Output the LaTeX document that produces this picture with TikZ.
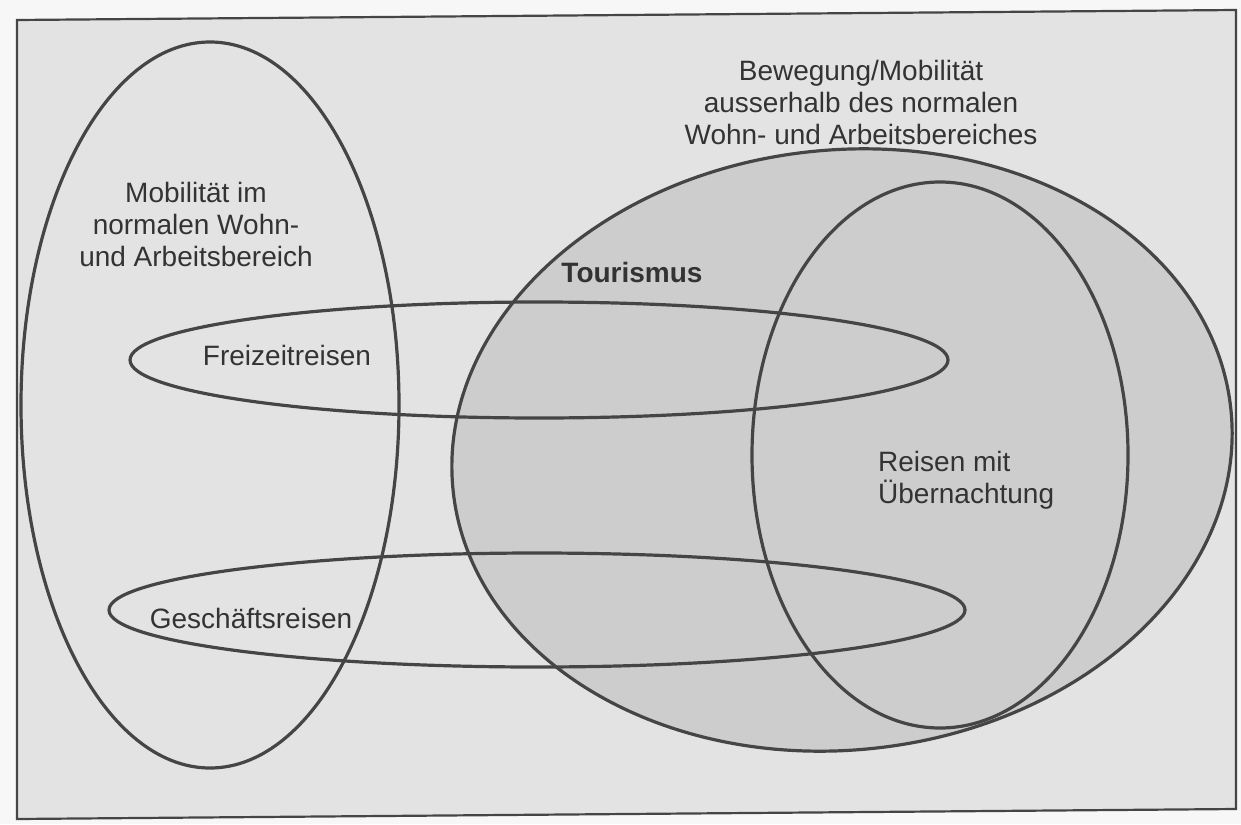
\documentclass[tikz,border=0pt]{standalone}
\usepackage{fontspec}
\setmainfont{Liberation Sans}
\definecolor{paper}{HTML}{F7F7F7}
\definecolor{sheet}{HTML}{E3E3E3}
\definecolor{setgray}{HTML}{CDCDCD}
\definecolor{linegray}{HTML}{454545}
\definecolor{textgray}{HTML}{333333}
\begin{document}
\begin{tikzpicture}[x=1pt,y=-1pt,
  outline/.style={draw=linegray, line width=3.2pt},
  frameline/.style={draw=linegray, line width=2.2pt},
  txt/.style={font=\fontsize{28}{32}\selectfont, text=textgray, inner sep=0pt, align=center},
  boldtxt/.style={txt, font=\fontsize{28}{32}\selectfont\bfseries},
]
% page and bounding box
\fill[paper] (0,0) rectangle (1241,824);
\useasboundingbox (0,0) rectangle (1241,824);

% framed panel
\coordinate (f1) at (17,20);
\coordinate (f2) at (1236,10);
\coordinate (f3) at (1236,809);
\coordinate (f4) at (17,819);
\fill[sheet] (f1) -- (f2) -- (f3) -- (f4) -- cycle;

% shaded tourism set and overnight-travel set
\coordinate (tour) at (842,450);
\coordinate (night) at (940,455);
\fill[setgray, rotate around={6:(tour)}] (tour) ellipse [x radius=391, y radius=300];
\fill[setgray] (night) ellipse [x radius=188, y radius=273];

% set outlines
\coordinate (home) at (210,405);
\coordinate (leisure) at (539,360);
\coordinate (business) at (537,610);
\draw[outline] (home) ellipse [x radius=189, y radius=363];
\draw[outline, rotate around={6:(tour)}] (tour) ellipse [x radius=391, y radius=300];
\draw[outline] (night) ellipse [x radius=188, y radius=273];
\draw[outline] (leisure) ellipse [x radius=409, y radius=58];
\draw[outline] (business) ellipse [x radius=428, y radius=57];

% frame
\draw[frameline] (f1) -- (f2) -- (f3) -- (f4) -- cycle;

% labels (base anchor of a multi-line label sits on its last line)
\node[txt, anchor=base] (outsideLbl) at (861,144)
  {Bewegung/Mobilität\\ausserhalb des normalen\\Wohn- und Arbeitsbereiches};
\node[txt, anchor=base] (homeLbl) at (196,266)
  {Mobilität im\\normalen Wohn-\\und Arbeitsbereich};
\node[boldtxt, anchor=base] (tourLbl) at (632,282) {Tourismus};
\node[txt, anchor=base] (leisureLbl) at (287,365) {Freizeitreisen};
\node[txt, anchor=base] (businessLbl) at (251,628) {Geschäftsreisen};
\node[txt, align=left, anchor=base west] (nightLbl) at (878,503)
  {Reisen mit\\Übernachtung};
\end{tikzpicture}
\end{document}
